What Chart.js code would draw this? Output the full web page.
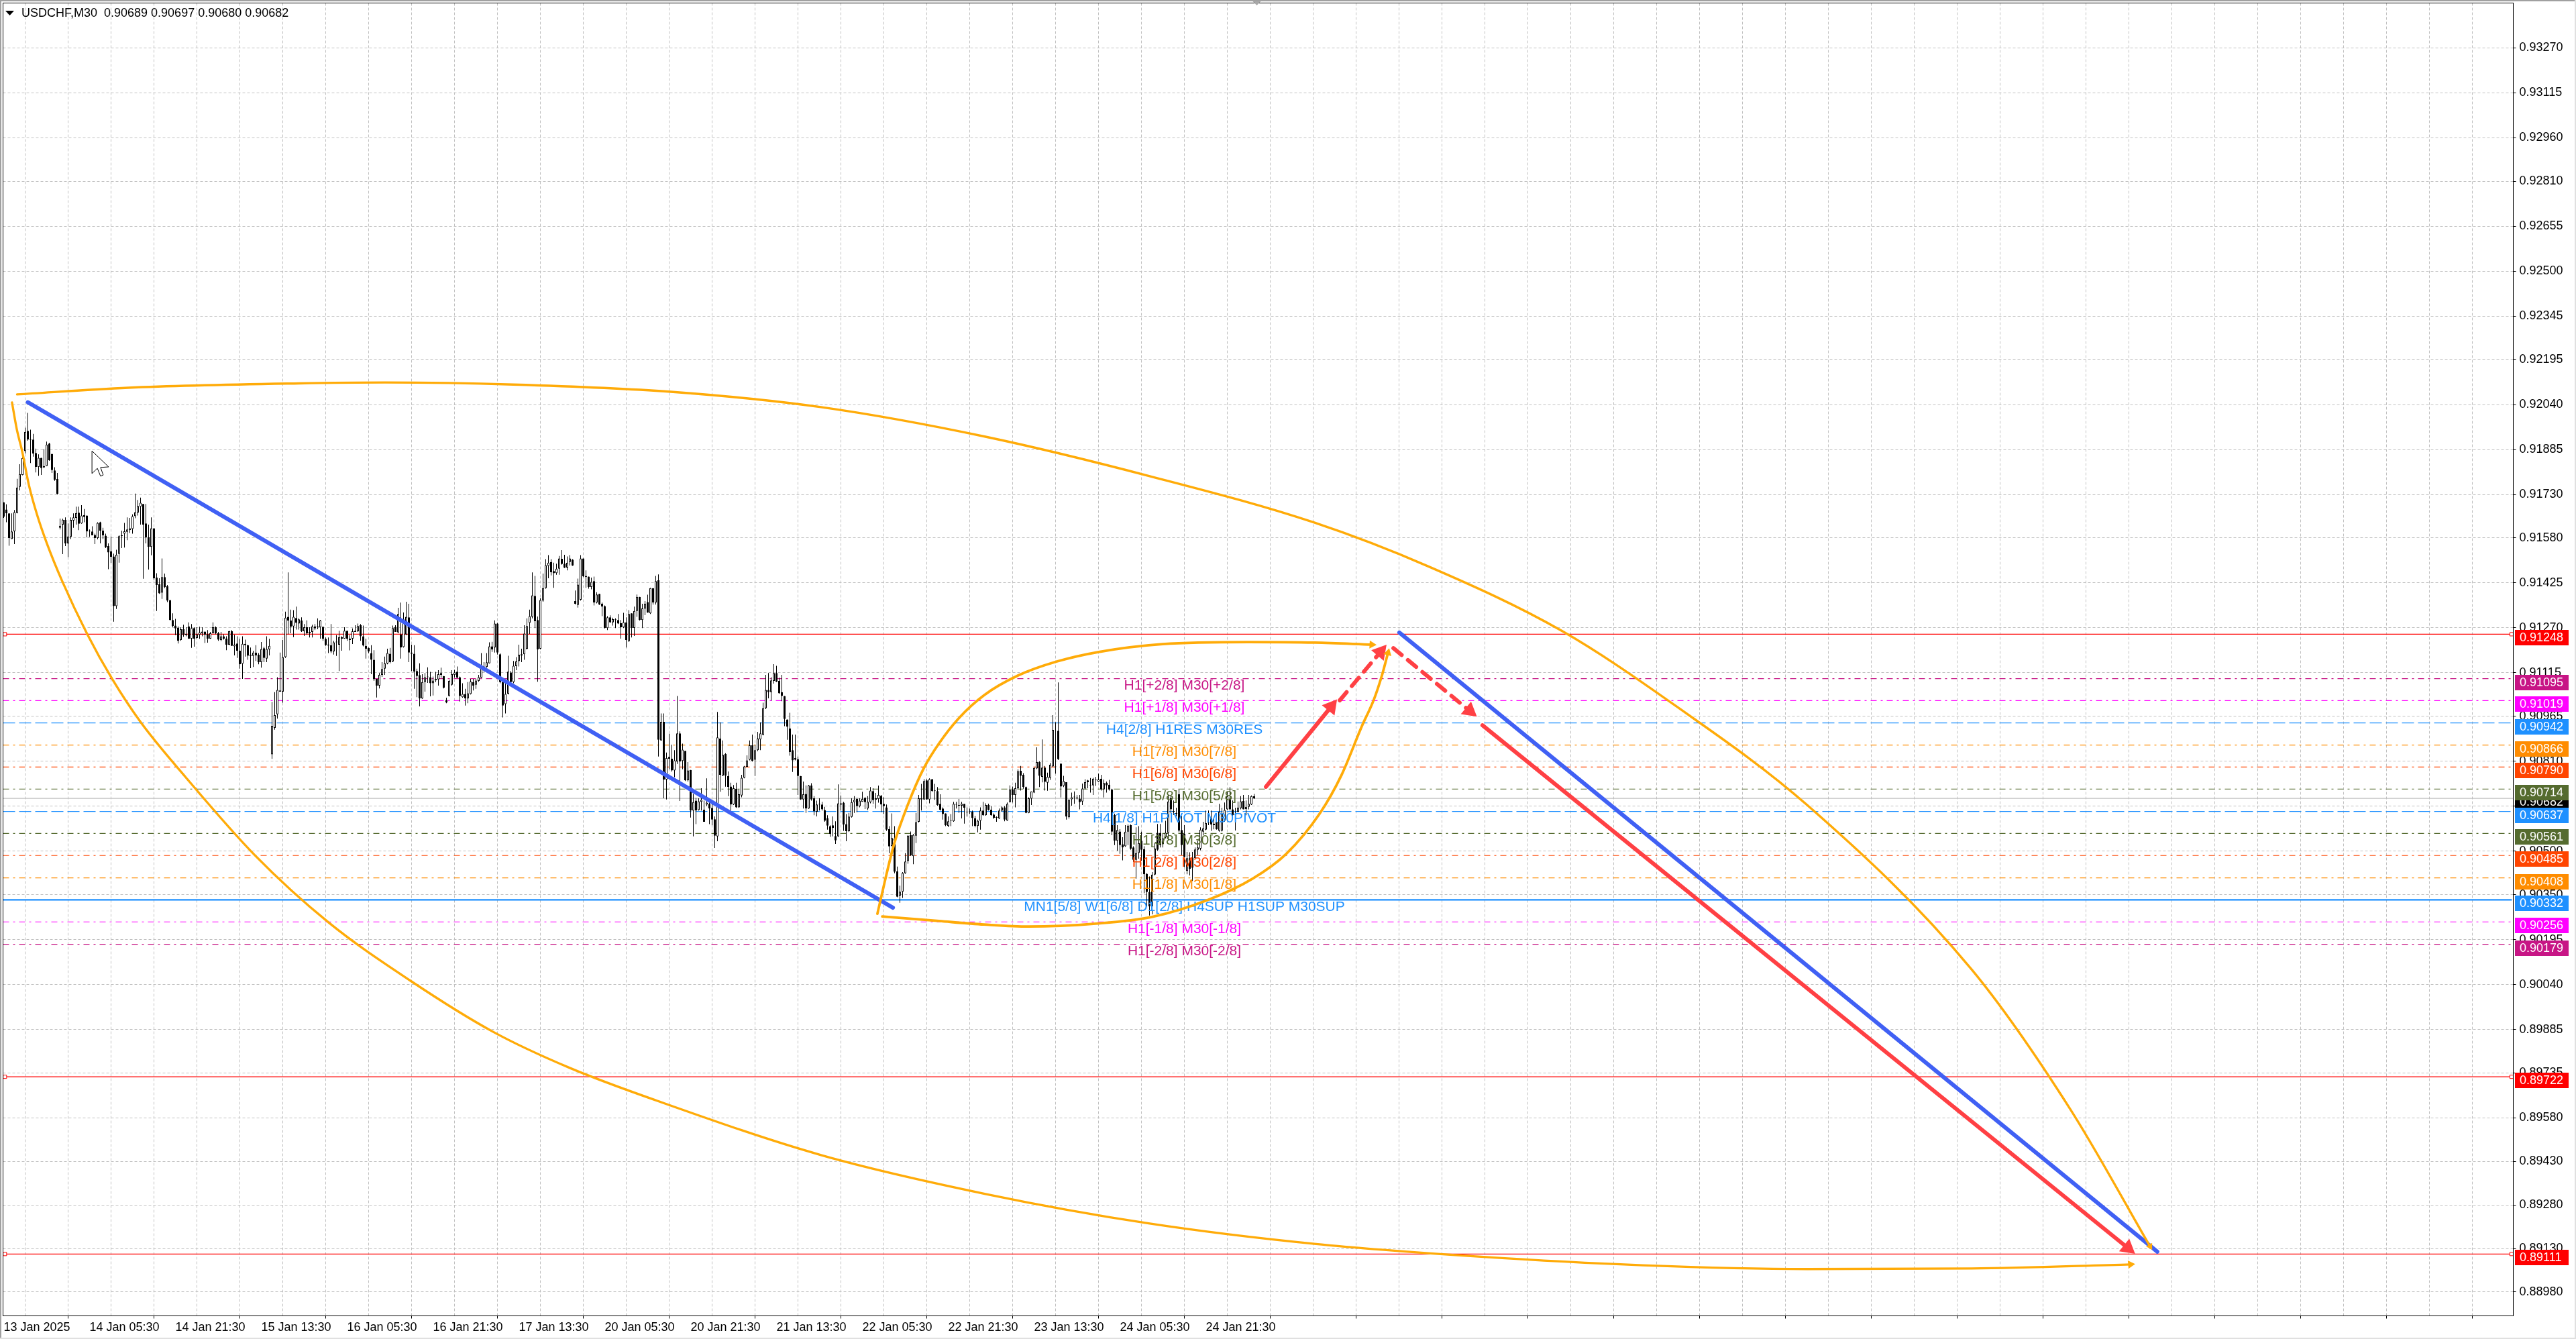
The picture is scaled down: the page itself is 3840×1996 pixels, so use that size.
<!DOCTYPE html>
<html><head><meta charset="utf-8">
<style>html,body{margin:0;padding:0;background:#fff}canvas{display:block}</style>
<script src="https://cdn.jsdelivr.net/npm/chart.js@4/dist/chart.umd.min.js"></script>
</head><body><canvas id="c" width="3840" height="1996"></canvas>
<script>
// ---- Candles, in 1e-5 price units, one entry per M30 bar ----
const bodyTop=[91703,91678,91665,91602,91669,91754,91800,91855,91946,91949,
91920,91919,91873,91856,91856,91828,91902,91905,91869,91813,
91783,91622,91643,91642,91585,91642,91651,91666,91667,91657,
91659,91657,91602,91602,91590,91632,91634,91605,91588,91552,
91534,91516,91522,91586,91589,91603,91609,91613,91655,91669,
91690,91701,91697,91630,91582,91613,91613,91443,91420,91445,
91445,91413,91366,91297,91278,91270,91265,91265,91249,91275,
91269,91269,91248,91254,91257,91257,91248,91251,91272,91272,
91252,91241,91241,91233,91258,91258,91212,91216,91191,91215,
91215,91210,91177,91185,91185,91177,91197,91200,91197,91208,
90932,90969,91056,91054,91169,91305,91308,91295,91308,91304,
91299,91295,91272,91272,91256,91275,91275,91275,91295,91274,
91232,91212,91210,91220,91220,91238,91238,91260,91260,91233,
91258,91260,91276,91279,91241,91208,91201,91183,91160,91094,
91108,91128,91148,91183,91181,91269,91273,91318,91247,91299,
91308,91306,91185,91181,91121,91107,91083,91100,91100,91100,
91088,91094,91110,91114,91104,91021,91087,91111,91116,91119,
91100,91042,91042,91044,91085,91083,91088,91100,91137,91137,
91151,91206,91206,91285,91285,91179,91083,91042,91119,91116,
91139,91154,91177,91179,91250,91276,91310,91382,91380,91297,
91366,91407,91486,91495,91497,91466,91474,91509,91508,91491,
91495,91509,91505,91362,91419,91509,91509,91449,91447,91428,
91431,91385,91387,91353,91345,91306,91306,91300,91299,91297,
91286,91289,91289,91318,91320,91328,91377,91377,91337,91353,
91359,91407,91407,91431,91434,90946,90946,90821,90825,90819,
90813,90906,90906,90850,90846,90778,90780,90669,90674,90672,
90677,90643,90667,90663,90649,90610,90892,90888,90832,90835,
90759,90723,90717,90715,90696,90753,90792,90813,90865,90865,
90848,90888,90906,90993,91056,91056,91089,91114,91114,91087,
91048,91035,90954,90923,90848,90821,90817,90759,90696,90697,
90726,90726,90682,90661,90661,90661,90642,90614,90586,90589,
90552,90665,90665,90667,90593,90619,90669,90677,90680,90674,
90680,90684,90670,90709,90707,90682,90694,90691,90663,90651,
90576,90545,90543,90430,90360,90425,90464,90553,90555,90556,
90599,90682,90682,90742,90744,90748,90748,90707,90707,90663,
90647,90630,90603,90605,90663,90662,90659,90663,90663,90636,
90636,90636,90614,90605,90640,90640,90659,90659,90643,90626,
90615,90640,90651,90651,90663,90713,90713,90717,90776,90777,
90763,90721,90682,90706,90787,90807,90807,90788,90788,90756,
90798,90918,90790,90915,90802,90742,90738,90677,90686,90686,
90683,90681,90716,90738,90744,90727,90750,90744,90747,90750,
90735,90736,90729,90713,90625,90573,90568,90524,90567,90588,
90590,90513,90494,90528,90536,90507,90422,90359,90419,90509,
90563,90563,90544,90563,90671,90683,90636,90629,90696,90573,
90560,90476,90476,90478,90506,90513,90574,90578,90597,90600,
90613,90595,90601,90636,90629,90642,90690,90681,90644,90627,
90650,90672,90673,90653,90663,90690,90689];
const bodyBottom=[91653,91665,91580,91576,91603,91666,91756,91797,91879,91919,
91918,91871,91825,91825,91821,91823,91828,91848,91814,91781,
91732,91615,91626,91561,91561,91584,91640,91649,91629,91630,
91652,91602,91602,91589,91580,91580,91605,91589,91548,91530,
91515,91345,91345,91525,91586,91595,91601,91607,91611,91655,
91667,91688,91626,91582,91549,91549,91441,91418,91389,91391,
91410,91364,91297,91276,91268,91225,91228,91246,91245,91233,
91233,91233,91235,91246,91251,91246,91233,91233,91251,91251,
91229,91228,91233,91212,91212,91208,91206,91191,91144,91146,
91210,91174,91173,91173,91175,91151,91152,91166,91164,91196,
90834,90925,90972,91050,91050,91169,91295,91274,91275,91287,
91285,91258,91258,91251,91251,91256,91268,91272,91272,91232,
91210,91209,91189,91189,91220,91212,91233,91233,91232,91228,
91233,91256,91258,91241,91209,91198,91189,91160,91093,91071,
91071,91108,91129,91147,91152,91154,91256,91254,91202,91204,
91247,91185,91181,91119,91104,91027,91027,91083,91100,91079,
91079,91089,91092,91108,91064,91013,91035,91074,91108,91098,
91035,91031,91027,91027,91042,91071,91074,91087,91098,91133,
91135,91148,91195,91202,91185,91083,91002,91007,91043,91083,
91083,91138,91155,91175,91179,91198,91287,91308,91293,91196,
91198,91364,91407,91484,91462,91458,91459,91474,91490,91478,
91478,91497,91485,91353,91349,91367,91448,91445,91411,91411,
91357,91357,91350,91343,91269,91269,91289,91289,91297,91285,
91272,91272,91228,91224,91269,91270,91328,91297,91297,91337,
91323,91320,91357,91357,90884,90882,90747,90747,90819,90778,
90778,90809,90809,90811,90744,90744,90640,90640,90640,90642,
90670,90601,90661,90647,90609,90553,90551,90763,90761,90761,
90721,90661,90661,90651,90651,90692,90753,90791,90815,90812,
90815,90848,90885,90902,90993,91048,91048,91087,91085,91044,
91035,90956,90929,90842,90813,90815,90759,90678,90678,90647,
90647,90678,90637,90636,90661,90644,90605,90588,90559,90580,
90537,90551,90660,90592,90569,90569,90618,90669,90655,90655,
90670,90669,90647,90669,90676,90677,90680,90661,90655,90574,
90516,90518,90429,90343,90347,90360,90424,90466,90485,90483,
90553,90601,90678,90678,90678,90678,90707,90707,90659,90643,
90628,90589,90587,90605,90603,90660,90657,90657,90650,90634,
90635,90614,90587,90587,90605,90624,90624,90642,90624,90615,
90615,90613,90640,90609,90606,90669,90694,90694,90717,90760,
90721,90632,90632,90681,90702,90785,90760,90756,90739,90736,
90753,90792,90790,90817,90723,90725,90619,90617,90679,90686,
90682,90669,90671,90716,90738,90727,90727,90744,90740,90713,
90713,90727,90713,90567,90536,90536,90521,90513,90517,90567,
90509,90470,90470,90494,90505,90420,90359,90309,90309,90419,
90505,90521,90524,90548,90563,90644,90636,90629,90571,90521,
90480,90432,90439,90443,90476,90505,90509,90567,90574,90598,
90592,90590,90575,90570,90571,90605,90644,90644,90624,90625,
90636,90648,90644,90645,90653,90661,90682];
const wickHigh=[91703,91696,91665,91665,91676,91784,91834,91883,91960,92011,
91953,91939,91888,91868,91856,91886,91912,91908,91871,91824,
91804,91647,91646,91651,91630,91651,91665,91688,91688,91693,
91680,91657,91609,91620,91595,91634,91636,91615,91595,91561,
91585,91526,91539,91589,91605,91632,91651,91649,91661,91733,
91711,91719,91697,91697,91626,91651,91613,91458,91441,91509,
91457,91418,91366,91320,91301,91275,91272,91281,91272,91289,
91283,91272,91272,91274,91272,91257,91262,91256,91289,91275,
91256,91256,91248,91241,91260,91262,91246,91241,91232,91241,
91229,91212,91202,91191,91210,91183,91221,91205,91241,91232,
91015,91048,91100,91185,91228,91326,91461,91333,91331,91343,
91303,91306,91283,91296,91272,91281,91283,91303,91297,91274,
91237,91237,91283,91225,91245,91260,91241,91272,91260,91245,
91268,91279,91285,91283,91278,91233,91202,91210,91193,91094,
91114,91152,91171,91198,91201,91278,91279,91339,91357,91323,
91360,91353,91212,91210,91129,91148,91110,91114,91134,91118,
91102,91118,91124,91133,91104,91029,91091,91124,91125,91137,
91102,91079,91060,91083,91094,91094,91094,91108,91183,91152,
91183,91220,91222,91296,91287,91182,91094,91090,91174,91121,
91156,91169,91212,91198,91279,91303,91333,91461,91449,91309,
91372,91457,91507,91521,91507,91495,91491,91518,91538,91522,
91516,91521,91507,91399,91440,91521,91509,91468,91447,91443,
91447,91393,91387,91357,91347,91310,91313,91305,91303,91318,
91297,91322,91306,91331,91320,91343,91385,91377,91353,91362,
91384,91408,91407,91449,91454,90975,90975,90840,90905,90867,
90848,91035,90913,90871,90846,90807,90780,90697,90684,90682,
90717,90674,90751,90682,90670,90620,90980,90944,90882,90838,
90775,90736,90728,90736,90713,90763,90794,90830,90882,90902,
90867,90911,90944,91012,91108,91114,91100,91145,91139,91098,
91108,91035,90954,90977,90902,90902,90826,90759,90740,90727,
90728,90734,90690,90674,90682,90670,90653,90624,90589,90620,
90603,90730,90692,90670,90628,90632,90682,90690,90684,90682,
90705,90686,90690,90721,90717,90701,90726,90694,90686,90661,
90586,90630,90586,90447,90381,90428,90493,90555,90568,90559,
90632,90694,90732,90748,90748,90751,90749,90732,90721,90696,
90651,90630,90620,90628,90670,90670,90680,90670,90663,90651,
90647,90640,90622,90609,90651,90670,90665,90664,90655,90630,
90620,90647,90655,90655,90668,90727,90723,90736,90782,90794,
90769,90723,90686,90706,90790,90858,90810,90885,90794,90771,
90804,90969,90945,91082,90802,90760,90738,90679,90702,90706,
90693,90694,90733,90748,90746,90752,90753,90756,90767,90763,
90747,90740,90746,90715,90629,90590,90576,90548,90590,90592,
90592,90517,90582,90586,90567,90517,90424,90413,90428,90528,
90594,90594,90559,90605,90694,90694,90675,90650,90713,90621,
90590,90497,90496,90497,90513,90536,90582,90601,90640,90640,
90640,90612,90628,90663,90650,90668,90705,90721,90675,90650,
90671,90690,90694,90675,90694,90692,90697];
const wickLow=[91649,91634,91553,91576,91559,91665,91744,91796,91871,91915,
91838,91860,91806,91794,91797,91821,91827,91846,91804,91777,
91730,91609,91524,91552,91514,91576,91615,91626,91607,91629,
91634,91582,91584,91589,91559,91575,91561,91576,91545,91472,
91494,91291,91335,91495,91545,91547,91572,91597,91595,91648,
91657,91626,91439,91561,91471,91520,91436,91328,91387,91370,
91407,91359,91295,91272,91245,91216,91225,91239,91241,91232,
91201,91205,91232,91232,91241,91218,91219,91232,91251,91248,
91225,91224,91229,91193,91210,91208,91175,91166,91129,91094,
91171,91160,91131,91135,91156,91144,91133,91152,91152,91175,
90818,90919,90957,91050,91012,91166,91248,91251,91238,91264,
91264,91256,91242,91246,91237,91237,91262,91265,91233,91225,
91208,91183,91183,91178,91173,91121,91191,91232,91225,91192,
91214,91256,91256,91225,91206,91164,91183,91110,91087,91030,
91061,91101,91108,91144,91148,91152,91256,91252,91164,91202,
91245,91152,91121,91060,91031,90999,91025,91050,91080,91034,
91037,91083,91071,91098,91061,91010,91033,91071,91098,91097,
91016,91029,91002,91010,91040,91054,91060,91084,91097,91118,
91133,91147,91187,91185,91178,91079,90961,90975,91040,91079,
91079,91124,91137,91152,91160,91195,91249,91303,91269,91084,
91196,91360,91405,91441,91451,91408,91453,91453,91488,91476,
91468,91485,91484,91351,91340,91364,91445,91408,91405,91403,
91347,91354,91349,91310,91268,91262,91287,91278,91269,91283,
91233,91269,91202,91222,91237,91242,91308,91295,91269,91314,
91322,91318,91350,91350,90826,90881,90682,90678,90782,90774,
90755,90801,90673,90782,90742,90740,90616,90551,90593,90640,
90640,90601,90655,90593,90589,90511,90534,90705,90759,90722,
90690,90640,90659,90649,90649,90686,90751,90790,90813,90809,
90759,90845,90848,90899,90990,91027,91019,91078,91083,91043,
91017,90931,90884,90829,90773,90813,90694,90677,90647,90632,
90646,90674,90624,90620,90640,90640,90601,90574,90549,90551,
90525,90549,90640,90570,90534,90566,90616,90632,90634,90651,
90670,90645,90642,90665,90663,90647,90667,90634,90628,90570,
90493,90516,90424,90341,90322,90339,90422,90457,90484,90455,
90528,90599,90640,90677,90677,90665,90705,90677,90657,90640,
90609,90586,90583,90586,90601,90647,90632,90613,90595,90619,
90628,90586,90582,90565,90574,90622,90622,90640,90622,90611,
90601,90611,90636,90603,90605,90668,90668,90651,90714,90709,
90715,90631,90631,90659,90700,90783,90721,90737,90709,90708,
90746,90790,90767,90814,90685,90721,90609,90612,90657,90663,
90678,90644,90659,90713,90717,90702,90694,90725,90739,90709,
90685,90702,90709,90555,90521,90501,90491,90468,90515,90521,
90505,90463,90405,90474,90467,90355,90309,90278,90282,90417,
90501,90513,90513,90544,90536,90629,90625,90620,90565,90486,
90445,90420,90416,90397,90474,90486,90503,90555,90572,90590,
90570,90575,90574,90567,90568,90601,90642,90640,90621,90571,
90634,90644,90644,90624,90644,90659,90680];
const bullish=[0,0,0,1,1,1,1,1,1,0,
1,0,0,1,0,1,1,0,0,0,
0,1,1,0,1,1,1,1,0,1,
0,0,1,0,0,1,0,0,0,0,
0,0,1,1,1,1,1,1,1,1,
1,1,0,0,0,1,0,0,0,1,
0,0,0,0,0,0,1,0,0,0,
1,0,1,1,1,0,0,1,1,0,
0,1,0,0,1,0,1,0,0,1,
0,0,0,1,0,0,1,0,1,1,
1,1,1,0,1,1,0,0,1,0,
1,0,1,0,1,1,0,0,1,0,
0,0,0,1,0,1,0,1,0,1,
1,0,1,0,0,0,0,0,0,0,
1,1,1,1,0,1,0,1,0,1,
1,0,0,0,0,0,1,1,1,0,
1,1,1,0,0,0,1,1,1,0,
0,1,0,1,1,0,1,1,1,1,
1,1,0,1,0,0,0,1,1,0,
1,1,1,0,1,1,1,1,0,0,
1,1,1,1,0,0,1,1,0,0,
1,1,0,0,1,1,0,0,0,1,
0,1,0,0,0,1,0,1,1,0,
0,1,0,1,0,1,1,0,1,1,
0,1,0,1,0,1,0,1,0,0,
1,1,0,1,0,1,0,1,0,1,
1,0,1,0,0,0,1,0,1,0,
0,0,1,0,1,1,1,1,1,0,
1,1,1,1,1,0,1,1,0,0,
0,0,0,0,0,0,0,0,1,0,
1,0,0,1,1,0,0,0,0,0,
0,1,1,0,0,1,1,1,0,1,
1,0,1,1,0,1,1,0,0,0,
0,1,0,0,1,1,1,1,0,1,
1,1,0,1,0,1,0,0,0,0,
0,0,1,1,1,1,0,1,0,1,
1,0,0,1,1,0,1,0,0,0,
1,1,1,0,1,1,0,1,1,0,
0,0,1,1,1,1,0,1,0,1,
1,1,1,0,0,1,0,1,1,1,
1,0,1,1,0,1,1,1,1,0,
1,0,0,0,0,1,0,0,1,1,
0,0,1,1,0,0,0,0,1,1,
0,0,1,1,1,0,1,1,0,0,
0,1,0,0,1,1,1,1,1,1,
0,1,0,1,1,1,1,0,0,1,
1,1,0,1,1,1,0];

// ---- Axis labels ----
const priceTicks=[0.93270,0.93115,0.92960,0.92810,0.92655,0.92500,0.92345,0.92195,0.92040,0.91885,0.91730,0.91580,0.91425,0.91270,0.91115,0.90965,0.90810,0.90655,0.90500,0.90350,0.90195,0.90040,0.89885,0.89735,0.89580,0.89430,0.89280,0.89130,0.88980];
const timeLabels=["13 Jan 2025","14 Jan 05:30","14 Jan 21:30","15 Jan 13:30","16 Jan 05:30","16 Jan 21:30","17 Jan 13:30","20 Jan 05:30","20 Jan 21:30","21 Jan 13:30","22 Jan 05:30","22 Jan 21:30","23 Jan 13:30","24 Jan 05:30","24 Jan 21:30"];

// ---- Murrey-style levels ----
const levelPrices=[0.91095,0.91019,0.90942,0.90866,0.90790,0.90714,0.90637,0.90561,0.90485,0.90408,0.90332,0.90256,0.90179];
const levelNames=["H1[+2/8] M30[+2/8]","H1[+1/8] M30[+1/8]","H4[2/8] H1RES M30RES","H1[7/8] M30[7/8]","H1[6/8] M30[6/8]","H1[5/8] M30[5/8]","H4[1/8] H1PIVOT M30PIVOT","H1[3/8] M30[3/8]","H1[2/8] M30[2/8]","H1[1/8] M30[1/8]","MN1[5/8] W1[6/8] D1[2/8] H4SUP H1SUP M30SUP","H1[-1/8] M30[-1/8]","H1[-2/8] M30[-2/8]"];
const levelColors=["#C71585","#FF00FF","#1E90FF","#FF8C00","#FF4500","#556B2F","#1E90FF","#556B2F","#FF4500","#FF8C00","#1E90FF","#FF00FF","#C71585"];
const redLevels=[0.91248,0.89722,0.89111];
const lastPrice=0.90682;
const headerText="USDCHF,M30  0.90689 0.90697 0.90680 0.90682";
const shiftBar=467;

// ---- Drawn objects: x in bar number, y in 1e-5 price units ----
const outerLowX=[3.1,4.9,6.9,9.4,12.4,16.1,21.9,31.1,40.4,51.1,67.9,93.6,121.1,151.6,182.4,211.1,243.6,304.6,365.9,427.1,488.4,549.6,610.9,672.1,733.4,792.6];
const outerLowY=[92047,91954,91878,91762,91661,91561,91429,91249,91094,90944,90754,90486,90254,90053,89877,89752,89639,89452,89318,89216,89146,89102,89072,89059,89061,89075];
const outerHighX=[5,46.4,110.1,142.1,189.9,248.6,304.6,365.9,427.1,488.4,531.4,580.4,623.1,672.1,733.4,770.1,799.9];
const outerHighY=[92075,92098,92113,92116,92109,92084,92031,91929,91793,91633,91480,91261,91001,90659,90092,89611,89137];
const innerHighX=[325.6,328.6,331.9,336.9,342.9,348.6,356.1,365.4,378.1,392.5,408.1,431.9,463.9,488.6,509.9];
const innerHighY=[90284,90405,90527,90659,90786,90872,90960,91038,91106,91154,91187,91214,91221,91219,91212];
const innerLowX=[327.4,348.6,365.4,381.9,406.9,427.9,448.6,465.4,477.9,490.4,498.6,506.1,510.6,513.6,515.9];
const innerLowY=[90275,90259,90247,90240,90250,90273,90331,90405,90490,90629,90763,90930,91022,91105,91184];
const blueDownX=[9,331.4], blueDownY=[92048,90305];
const blueNextX=[520.1,802.6], blueNextY=[91254,89119];
const redUpX=[470.4,494.7], redUpY=[90722,90998];
const redUpDashX=[497.9,513.1], redUpDashY=[91020,91187];
const redDownDashX=[517.9,546.3], redDownDashY=[91200,90984];
const redDownX=[551.1,791.6], redDownY=[90934,89132];
const cursorX=[32.9,39.1,36.1,37.1,36.1,34.9,32.9,32.9];
const cursorY=[91880,91825,91823,91797,91793,91820,91802,91880];

const pts=(xs,ys)=>xs.map((x,i)=>({x,y:ys[i]/1e5}));
const X_MIN=-0.25,X_MAX=935.25,Y_MIN=0.888977,Y_MAX=0.934244;
const FONT='"Liberation Sans", Arial, sans-serif';
const ORANGE='#FFAB08',BLUE='#4060F4',RED='#FF4044';

function arrow(xs,ys,color,width,headR,rot,extra){
  const n=xs.length;
  return Object.assign({type:'line',data:pts(xs,ys),borderColor:color,backgroundColor:color,borderWidth:width,
    pointRadius:xs.map((_,i)=>i===n-1?headR:0),pointStyle:'triangle',pointRotation:rot,pointBorderWidth:0,
    borderCapStyle:'round',borderJoinStyle:'round',order:5},extra||{});
}
const levelSets=levelPrices.map((p,i)=>{
  const solid=i===10, dash=levelColors[i]==='#1E90FF';
  return {type:'line',data:[{x:X_MIN,y:p},{x:934.7,y:p}],borderColor:levelColors[i],borderWidth:solid?2.4:1.2,
    borderDash:solid?[]:(dash?[18,6]:[9,6,3,6]),pointRadius:0,order:30};
});
const redSets=redLevels.map(p=>({type:'line',data:[{x:X_MIN,y:p},{x:0.45,y:p},{x:934.6,y:p},{x:X_MAX,y:p}],
  borderColor:'#FF0000',borderWidth:1.2,pointRadius:[0,3.6,3.6,0],pointStyle:'rect',
  pointBackgroundColor:'#fff',pointBorderColor:'#FF0000',pointBorderWidth:1,order:29}));

const datasets=[
  {type:'line',data:[{x:X_MIN,y:lastPrice},{x:X_MAX,y:lastPrice}],borderColor:'#C0C0C0',borderWidth:1.2,pointRadius:0,order:31},
  ...levelSets,...redSets,
  {type:'bar',data:wickHigh.map((h,i)=>({x:i,y:[wickLow[i]/1e5,h/1e5]})),barThickness:1,backgroundColor:'#000',borderWidth:0,inflateAmount:0,grouped:false,order:21},
  {type:'bar',data:bodyTop.map((t,i)=>({x:i,y:[bodyBottom[i]/1e5,t/1e5]})),barThickness:3,backgroundColor:bullish.map(u=>u?'#fff':'#000'),borderColor:'#000',borderWidth:1,borderSkipped:false,minBarLength:1,inflateAmount:0,grouped:false,order:20},
  {type:'line',label:'levelText',data:[],order:10},
  {type:'line',data:pts(cursorX,cursorY),borderColor:'#000',borderWidth:1,pointRadius:0,order:9},
  arrow(outerLowX,outerLowY,ORANGE,3.4,7,85,{cubicInterpolationMode:'monotone'}),
  arrow(outerHighX,outerHighY,ORANGE,3.4,6,150,{cubicInterpolationMode:'monotone'}),
  arrow(innerHighX,innerHighY,ORANGE,3.8,7,93,{cubicInterpolationMode:'monotone'}),
  arrow(innerLowX,innerLowY,ORANGE,3.8,7,15,{cubicInterpolationMode:'monotone'}),
  arrow(blueDownX,blueDownY,BLUE,6,0,0,{order:6}),
  arrow(blueNextX,blueNextY,BLUE,6,0,0,{order:6}),
  arrow(redUpX,redUpY,RED,6,14,39),
  arrow(redUpDashX,redUpDashY,RED,6,14,40,{borderDash:[16,12]}),
  arrow(redDownDashX,redDownDashY,RED,6,14,129,{borderDash:[16,12]}),
  arrow(redDownX,redDownY,RED,6,14,129)
];

const decor={
  id:'decor',
  beforeDatasetDraw(chart,args){
    if(chart.data.datasets[args.index].label!=='levelText')return;
    const c=chart.ctx,ys=chart.scales.y;
    c.save();c.font='21px '+FONT;c.textAlign='center';c.textBaseline='middle';
    levelPrices.forEach((p,i)=>{c.fillStyle=levelColors[i];c.fillText(levelNames[i],chart.scales.x.getPixelForValue(440),ys.getPixelForValue(p)+11);});
    c.restore();
  },
  afterDraw(chart){
    const c=chart.ctx,a=chart.chartArea,ys=chart.scales.y,xs=chart.scales.x;
    c.save();
    // frame
    c.strokeStyle='#000';c.lineWidth=1;c.strokeRect(a.left,a.top,a.right-a.left,a.bottom-a.top);
    // price tags
    const tags=[{p:lastPrice,col:'#000'},
      ...levelPrices.map((p,i)=>({p,col:levelColors[i]})),
      ...redLevels.map(p=>({p,col:'#FF0000'}))];
    c.font='18px '+FONT;c.textBaseline='middle';c.textAlign='left';
    tags.forEach(t=>{
      const y=ys.getPixelForValue(t.p);
      c.fillStyle=t.col;c.fillRect(a.right+2.5,Math.round(y)-6,80,23);
      c.fillStyle='#fff';c.fillText(t.p.toFixed(5),a.right+9.5,Math.round(y)+6);
    });
    // header
    c.fillStyle='#000';c.font='18px '+FONT;c.fillText(headerText,32,20);
    c.beginPath();c.moveTo(8,16);c.lineTo(21,16);c.lineTo(14.5,23);c.closePath();c.fill();
    // chart-shift marker
    const sx=xs.getPixelForValue(shiftBar);
    c.fillStyle='#A8A8A8';c.beginPath();c.moveTo(sx-8,0);c.lineTo(sx+8,0);c.lineTo(sx,8);c.closePath();c.fill();
    // window edges
    c.fillStyle='#A0A0A0';c.fillRect(0,0,3840,2);c.fillRect(0,0,2,1996);
    c.fillStyle='#E0E0E0';c.fillRect(0,1994,3840,2);c.fillRect(3838,0,2,1996);
    c.restore();
  }
};

new Chart(document.getElementById('c'),{
  type:'bar',
  data:{datasets},
  plugins:[decor],
  options:{
    responsive:false,animation:false,devicePixelRatio:1,
    layout:{autoPadding:false,padding:{left:4.5,top:4.5,right:0,bottom:0}},
    plugins:{legend:{display:false},tooltip:{enabled:false},title:{display:false}},
    events:[],
    scales:{
      x:{type:'linear',offset:false,min:X_MIN,max:X_MAX,
        afterFit(s){s.height=34.5;s.paddingLeft=0;s.paddingRight=0;s.paddingTop=0;s.paddingBottom=0;},
        afterBuildTicks(s){const t=[];for(let i=0;i<=928;i+=16)t.push({value:i});s.ticks=t;},
        grid:{color:'#C0C0C0',lineWidth:1,tickLength:4,tickColor:ctx=>ctx.tick&&ctx.tick.value%32===0?'#000':'rgba(0,0,0,0)'},
        border:{color:'#000',width:1,dash:[4,3]},
        ticks:{autoSkip:false,maxRotation:0,minRotation:0,align:'start',padding:3,color:'#000',font:{family:FONT,size:18},
          callback(v){const k=v/32;return Number.isInteger(k)&&k<timeLabels.length?timeLabels[k]:'';}}
      },
      y:{type:'linear',position:'right',min:Y_MIN,max:Y_MAX,
        afterFit(s){s.width=93.5;s.paddingLeft=0;s.paddingRight=0;s.paddingTop=0;s.paddingBottom=0;},
        afterBuildTicks(s){s.ticks=priceTicks.map(value=>({value}));},
        grid:{color:'#C0C0C0',lineWidth:1,tickLength:4,tickColor:'#000'},
        border:{color:'#000',width:1,dash:[4,3]},
        ticks:{autoSkip:false,padding:5,color:'#000',font:{family:FONT,size:18},callback:v=>v.toFixed(5)}
      }
    }
  }
});
</script></body></html>
